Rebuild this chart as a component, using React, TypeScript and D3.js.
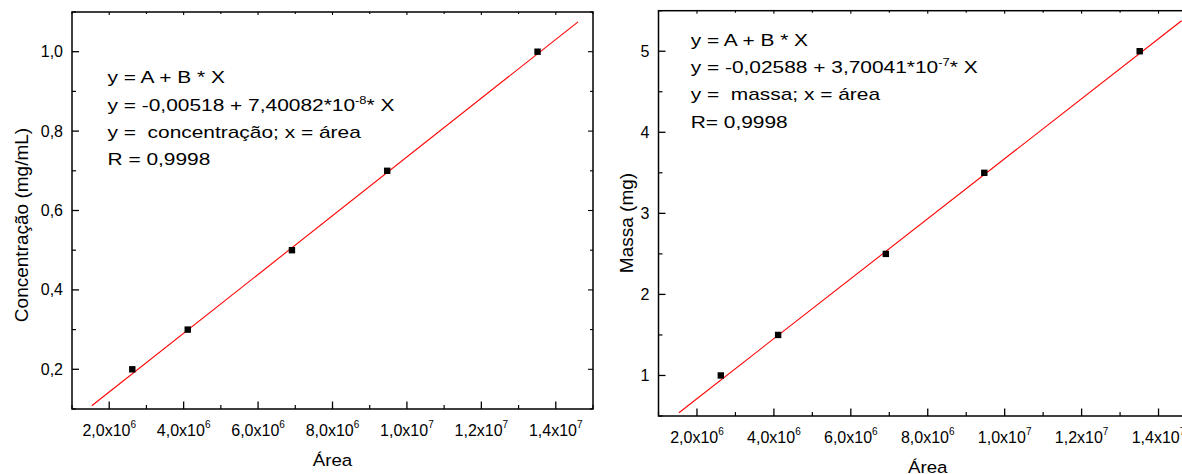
import React from "react";
import * as d3 from "d3";

// ---- data ----
const areas = [2.62e6, 4.11e6, 6.91e6, 9.47e6, 13.51e6];
const concentrations = [0.2, 0.3, 0.5, 0.7, 1.0];
const masses = [1.0, 1.5, 2.5, 3.5, 5.0];

const fitConcA = -0.00518;
const fitConcB = 7.40082e-8;
const fitMassA = -0.02588;
const fitMassB = 3.70041e-7;

const xTickValues = [2e6, 4e6, 6e6, 8e6, 1e7, 1.2e7, 1.4e7];
const xTickMantissa = ["2,0", "4,0", "6,0", "8,0", "1,0", "1,2", "1,4"];
const xTickExponent = ["6", "6", "6", "6", "7", "7", "7"];

const concTicks = [0.2, 0.4, 0.6, 0.8, 1.0];
const concTickLabels = ["0,2", "0,4", "0,6", "0,8", "1,0"];
const massTicks = [1, 2, 3, 4, 5];
const massTickLabels = ["1", "2", "3", "4", "5"];

const concAnnot = {
  l1: "y = A + B * X",
  l2a: "y = -0,00518 + 7,40082*10",
  l2sup: "-8",
  l2b: "* X",
  l3: "y =\u00a0 concentração; x = área",
  l4: "R = 0,9998",
};
const massAnnot = {
  l1: "y = A + B * X",
  l2a: "y = -0,02588 + 3,70041*10",
  l2sup: "-7",
  l2b: "* X",
  l3: "y =\u00a0 massa; x = área",
  l4: "R= 0,9998",
};

const FONT = "'Liberation Sans', Arial, sans-serif";

type PanelProps = {
  x0: number; x1: number; yTop: number; yBot: number;
  yDomain: [number, number]; yMinorStep: number;
  yTicks: number[]; yTickLabels: string[];
  yValues: number[]; fitA: number; fitB: number;
  yTitle: string; yTitleX: number; yTitleY: number;
  annot: typeof concAnnot; annotX: number; annotY: number;
};

function Panel(p: PanelProps) {
  const x = d3.scaleLinear().domain([1e6, 1.5e7]).range([p.x0, p.x1]);
  const y = d3.scaleLinear().domain(p.yDomain).range([p.yBot, p.yTop]);
  const xMinor = d3.range(1e6, 1.5e7 + 1, 1e6).filter((v) => !xTickValues.some((t) => Math.abs(t - v) < 1));
  const yMinor = d3
    .range(p.yDomain[0], p.yDomain[1] + 1e-9, p.yMinorStep)
    .filter((v) => !p.yTicks.some((t) => Math.abs(t - v) < 1e-6));
  const xmin = d3.min(areas)!;
  const xmax = d3.max(areas)!;
  const ext = (xmax - xmin) * 0.1;
  const fitX = [xmin - ext, xmax + ext];
  const line = d3
    .line<number>()
    .x((v) => x(v))
    .y((v) => y(p.fitA + p.fitB * v));
  const cx = (p.x0 + p.x1) / 2;
  const sx = 1.23;
  const lh = 27.4;
  const af = 17;
  return (
    <g>
      {/* fit line */}
      <path d={line(fitX) || ""} stroke="#ff0000" strokeWidth={1.1} fill="none" />
      {/* points */}
      {areas.map((a, i) => (
        <rect key={i} x={x(a) - 3.2} y={y(p.yValues[i]) - 3.2} width={6.4} height={6.4} fill="#000" />
      ))}
      {/* frame */}
      <rect x={p.x0} y={p.yTop} width={p.x1 - p.x0} height={p.yBot - p.yTop} fill="none" stroke="#000" strokeWidth={1.5} />
      {/* bottom ticks */}
      {xTickValues.map((v, i) => (
        <g key={"xt" + i}>
          <line x1={x(v)} x2={x(v)} y1={p.yBot} y2={p.yBot - 7.5} stroke="#000" strokeWidth={1.3} />
          <line x1={x(v)} x2={x(v)} y1={p.yTop} y2={p.yTop + 3} stroke="#000" strokeWidth={1.1} />
          <text x={x(v)} y={p.yBot + 27} fontFamily={FONT} fontSize={16} textAnchor="middle" fill="#000">
            {xTickMantissa[i]}x10
            <tspan fontSize={10} dy={-8}>{xTickExponent[i]}</tspan>
          </text>
        </g>
      ))}
      {xMinor.map((v, i) => (
        <g key={"xm" + i}>
          <line x1={x(v)} x2={x(v)} y1={p.yBot} y2={p.yBot - 4} stroke="#000" strokeWidth={1.2} />
          <line x1={x(v)} x2={x(v)} y1={p.yTop} y2={p.yTop + 2} stroke="#000" strokeWidth={1.1} />
        </g>
      ))}
      {/* y ticks */}
      {p.yTicks.map((v, i) => (
        <g key={"yt" + i}>
          <line x1={p.x0} x2={p.x0 + 7} y1={y(v)} y2={y(v)} stroke="#000" strokeWidth={1.3} />
          <line x1={p.x1} x2={p.x1 - 5} y1={y(v)} y2={y(v)} stroke="#000" strokeWidth={1.1} />
          <text x={p.x0 - 9} y={y(v) + 5.5} fontFamily={FONT} fontSize={16} textAnchor="end" fill="#000">
            {p.yTickLabels[i]}
          </text>
        </g>
      ))}
      {yMinor.map((v, i) => (
        <g key={"ym" + i}>
          <line x1={p.x0} x2={p.x0 + 4} y1={y(v)} y2={y(v)} stroke="#000" strokeWidth={1.2} />
          <line x1={p.x1} x2={p.x1 - 3} y1={y(v)} y2={y(v)} stroke="#000" strokeWidth={1.1} />
        </g>
      ))}
      {/* titles */}
      <text
        transform={`translate(${cx},${p.yBot + 57}) scale(1.1,1)`}
        fontFamily={FONT}
        fontSize={17}
        textAnchor="middle"
        fill="#000"
      >
        Área
      </text>
      <text
        transform={`translate(${p.yTitleX},${p.yTitleY}) rotate(-90)`}
        fontFamily={FONT}
        fontSize={19}
        textAnchor="middle"
        fill="#000"
      >
        {p.yTitle}
      </text>
      {/* annotation */}
      <g
        transform={`translate(${p.annotX},${p.annotY}) scale(${sx},1)`}
        fontFamily={FONT}
        fontSize={af}
        fill="#000"
      >
        <text x={0} y={0}>{p.annot.l1}</text>
        <text x={0} y={lh}>
          {p.annot.l2a}
          <tspan fontSize={10.5} dy={-7}>{p.annot.l2sup}</tspan>
          <tspan dy={7}>{p.annot.l2b}</tspan>
        </text>
        <text x={0} y={lh * 2}>{p.annot.l3}</text>
        <text x={0} y={lh * 3}>{p.annot.l4}</text>
      </g>
    </g>
  );
}

export default function App() {
  return (
    <svg
      width={1182}
      height={474}
      style={{ position: "absolute", left: 0, top: 0, background: "#fff" }}
    >
      <rect x={0} y={0} width={1182} height={474} fill="#fff" />
      <Panel
        x0={72}
        x1={593}
        yTop={12}
        yBot={409}
        yDomain={[0.1, 1.1]}
        yMinorStep={0.1}
        yTicks={concTicks}
        yTickLabels={concTickLabels}
        yValues={concentrations}
        fitA={fitConcA}
        fitB={fitConcB}
        yTitle="Concentração (mg/mL)"
        yTitleX={28}
        yTitleY={225}
        annot={concAnnot}
        annotX={107.5}
        annotY={83.3}
      />
      <Panel
        x0={658.5}
        x1={1197}
        yTop={10.7}
        yBot={416}
        yDomain={[0.5, 5.5]}
        yMinorStep={0.5}
        yTicks={massTicks}
        yTickLabels={massTickLabels}
        yValues={masses}
        fitA={fitMassA}
        fitB={fitMassB}
        yTitle="Massa (mg)"
        yTitleX={633}
        yTitleY={223}
        annot={massAnnot}
        annotX={690.7}
        annotY={45.7}
      />
    </svg>
  );
}
